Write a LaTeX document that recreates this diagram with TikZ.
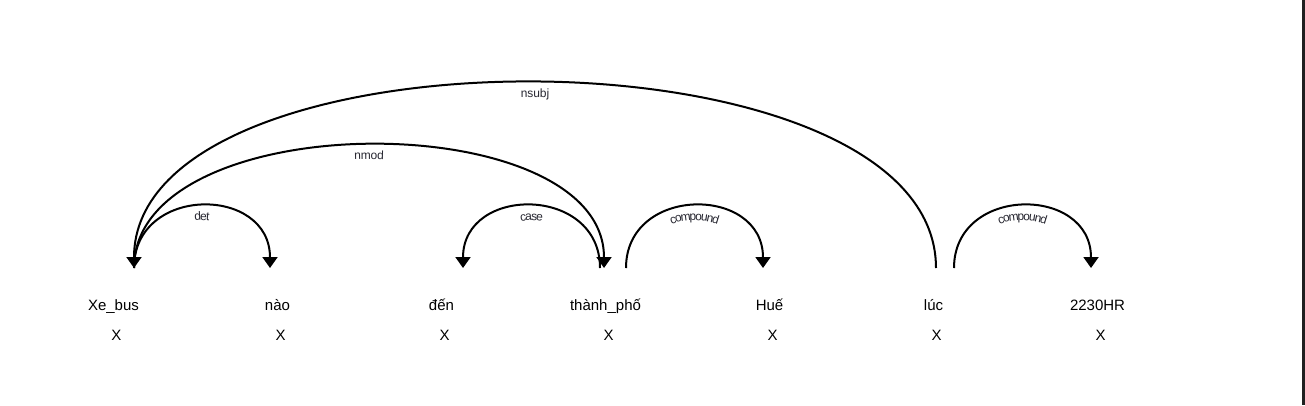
\documentclass[tikz,border=0pt]{standalone}
\usepackage{fontspec}
\setmainfont{Liberation Sans}
\usetikzlibrary{arrows.meta, decorations.text, calc}
\definecolor{lblGray}{RGB}{40,40,50}
\definecolor{edgeDark}{RGB}{32,32,32}
\newcommand{\lblfont}{\fontsize{12}{14}\selectfont}

\begin{document}
\begin{tikzpicture}[x=1pt, y=-1pt,
		word/.style={anchor=base, inner sep=0pt, font=\fontsize{15}{18}\selectfont},
		dep/.style={draw, line width=2pt, line cap=butt},
		toarr/.style={dep, -{Triangle[length=11pt, width=15pt]}},
		fromarr/.style={dep, {Triangle[length=11pt, width=15pt]}-},
		lbl/.style={decorate, decoration={text along path, text align=center, raise=-14.5pt,
			text color=lblGray, text={|\lblfont|#1}}}]
	\fill[white] (0,0) rectangle (1305,405);
	\useasboundingbox (0,0) rectangle (1305,405);
	\fill[edgeDark] (1302,0) rectangle (1305,405);
	% words and tags
	\foreach \w [count=\i from 0] in {Xe\_bus, nào, đến, thành\_phố, Huế, lúc, 2230HR} {
		\node[word] (w\i) at ({113.5+164*\i},310) {\w};
		\node[word] (t\i) at ({116.5+164*\i},340) {X};
	}
	% arc ends
	\coordinate (w0r) at ($(w0.base)+(20.5,-42)$);
	\coordinate (w1l) at ($(w1.base)+(-7.5,-42)$);
	\coordinate (w2r) at ($(w2.base)+(21.5,-42)$);
	\coordinate (w3a) at ($(w3.base)+(-1.5,-42)$);
	\coordinate (w3b) at ($(w3.base)+(-5.5,-42)$);
	\coordinate (w3r) at ($(w3.base)+(20.5,-42)$);
	\coordinate (w4l) at ($(w4.base)+(-6.5,-42)$);
	\coordinate (w5a) at ($(w5.base)+(2.5,-42)$);
	\coordinate (w5r) at ($(w5.base)+(20.5,-42)$);
	\coordinate (w6l) at ($(w6.base)+(-6.5,-42)$);
	% arcs
	\draw[toarr] (w0r) .. controls +(0,-83) and +(0,-83) .. (w1l);
	\path[lbl=det] (w0r) .. controls +(0,-83) and +(0,-83) .. (w1l);
	\draw[toarr] (w0r) .. controls +(0,-164) and +(0,-164) .. (w3a);
	\path[lbl=nmod] (w0r) .. controls +(0,-164) and +(0,-164) .. (w3a);
	\draw[fromarr] (w0r) .. controls +(0,-247) and +(0,-247) .. (w5a);
	\path[lbl=nsubj] (w0r) .. controls +(0,-247) and +(0,-247) .. (w5a);
	\draw[fromarr] (w2r) .. controls +(0,-83) and +(0,-83) .. (w3b);
	\path[lbl=case] (w2r) .. controls +(0,-83) and +(0,-83) .. (w3b);
	\draw[toarr] (w3r) .. controls +(0,-83) and +(0,-83) .. (w4l);
	\path[lbl=compound] (w3r) .. controls +(0,-83) and +(0,-83) .. (w4l);
	\draw[toarr] (w5r) .. controls +(0,-83) and +(0,-83) .. (w6l);
	\path[lbl=compound] (w5r) .. controls +(0,-83) and +(0,-83) .. (w6l);
\end{tikzpicture}
\end{document}
